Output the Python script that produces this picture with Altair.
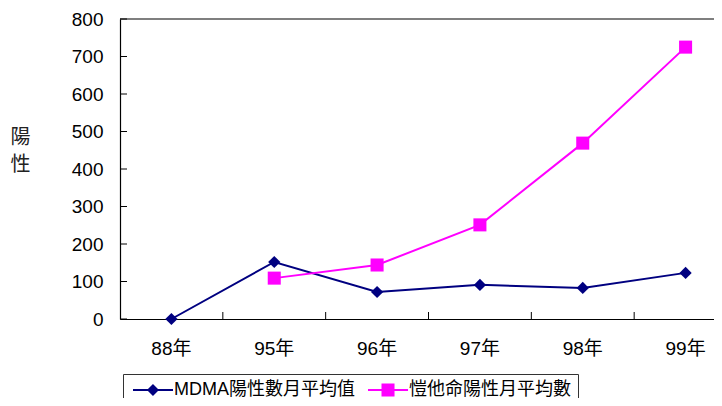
import altair as alt
import pandas as pd

years = ["88年", "95年", "96年", "97年", "98年", "99年"]
mdma = [0, 152, 72, 91, 83, 123]
ketamine = [None, 109, 144, 251, 469, 725]
series_names = ["MDMA陽性數月平均值", "愷他命陽性月平均數"]
series_colors = ["#000080", "#FF00FF"]
y_ticks = [0, 100, 200, 300, 400, 500, 600, 700, 800]
y_title = ["陽", "性"]

FONT = "Liberation Sans, Arial, Noto Sans CJK TC, sans-serif"
W = 594      # visible plot width (the last band runs off the page)
XR = 617     # full band range

rows = []
for yr, v in zip(years, mdma):
    if v is not None:
        rows.append({"year": yr, "series": series_names[0], "value": v})
for yr, v in zip(years, ketamine):
    if v is not None:
        rows.append({"year": yr, "series": series_names[1], "value": v})
df = pd.DataFrame(rows)
tick_df = pd.DataFrame({"value": y_ticks})
top_df = pd.DataFrame({"value": [y_ticks[-1]]})
xtick_df = pd.DataFrame({"year": years[1:]})

xscale = alt.Scale(type="band", domain=years, paddingInner=0, paddingOuter=0, range=[0, XR])
yscale = alt.Scale(domain=[0, 800], nice=False, zero=True)
cscale = alt.Scale(domain=series_names, range=series_colors)

# legend symbols: line stub + marker (units of 6px, symbol box 12px)
diamond_leg = ("M-1,-0.17L5.67,-0.17L5.67,0.17L-1,0.17Z "
               "M2.33,-1L3.33,0L2.33,1L1.33,0Z")
square_leg = ("M-1,-0.17L5.67,-0.17L5.67,0.17L-1,0.17Z "
              "M1.25,-1.08L3.42,-1.08L3.42,1.08L1.25,1.08Z")

x_axis = alt.Axis(title=None, labelAngle=0, ticks=False, domain=True,
                  domainColor="black", domainWidth=1.2,
                  labelPadding=20, labelFontSize=19, labelFont=FONT,
                  labelColor="black", labelOverlap=False)
y_axis = alt.Axis(values=y_ticks, ticks=False, domain=True, grid=False,
                  domainColor="black", domainWidth=1.2,
                  labelPadding=17, labelFontSize=19, labelFont=FONT,
                  labelColor="black", labelOverlap=False,
                  title=y_title, titleAngle=0, titleX=-100, titleY=108,
                  titleAlign="center", titleBaseline="top",
                  titleFontSize=20, titleFontWeight="normal",
                  titleLineHeight=27, titleFont=FONT, titleColor="#222222")

x_enc = alt.X("year:N", scale=xscale, axis=x_axis)
y_enc = alt.Y("value:Q", scale=yscale, axis=y_axis)

lines = alt.Chart(df).mark_line(strokeWidth=2).encode(
    x=x_enc, y=y_enc,
    color=alt.Color("series:N", scale=cscale, legend=None),
)
points = alt.Chart(df).mark_point(filled=True, opacity=1).encode(
    x=x_enc, y=y_enc,
    color=alt.Color("series:N", scale=cscale, legend=None),
    shape=alt.Shape("series:N", scale=alt.Scale(domain=series_names, range=["diamond", "square"]), legend=None),
    size=alt.Size("series:N", scale=alt.Scale(domain=series_names, range=[150, 170]), legend=None),
)
legend_layer = alt.Chart(df).mark_point(filled=True, opacity=0).encode(
    x=x_enc, y=y_enc,
    color=alt.Color("series:N", scale=cscale, legend=alt.Legend(title=None)),
    shape=alt.Shape("series:N", scale=alt.Scale(domain=series_names, range=[diamond_leg, square_leg]),
                    legend=alt.Legend(title=None)),
)
yticks = alt.Chart(tick_df).mark_rule(color="black", strokeWidth=1).encode(
    y=y_enc,
    x=alt.value(0), x2=alt.value(7),
)
top_border = alt.Chart(top_df).mark_rule(color="black", strokeWidth=1.2).encode(
    y=y_enc,
    x=alt.value(0), x2=alt.value(W),
)
xticks = alt.Chart(xtick_df).mark_rule(color="black", strokeWidth=1).encode(
    x=alt.X("year:N", scale=xscale, bandPosition=0, axis=x_axis),
    y=alt.value(300), y2=alt.value(293),
)

chart = alt.layer(lines, points, legend_layer, yticks, xticks, top_border).resolve_scale(
    color="independent", shape="independent", size="independent"
).properties(
    width=W, height=300,
    autosize=alt.AutoSizeParams(type="none"),
    padding={"left": 112, "top": 11, "right": 0, "bottom": 79},
).configure_view(
    stroke=None
).configure_legend(
    orient="none", legendX=3, legendY=355, direction="horizontal",
    strokeColor="#333333", fillColor="white", padding=7,
    labelFontSize=18, labelFont=FONT, labelColor="black", labelLimit=500,
    symbolOpacity=1, symbolSize=144, labelOffset=26, columnPadding=10,
    symbolStrokeWidth=0,
)

chart.save("out.html", embed_options={"renderer": "svg", "actions": False})
